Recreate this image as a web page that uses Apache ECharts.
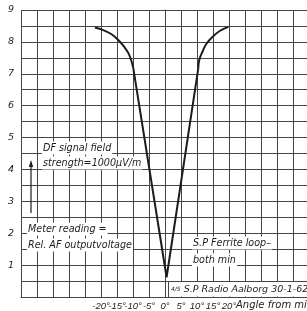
<!DOCTYPE html>
<html>
<head>
<meta charset="utf-8">
<script src="https://cdn.jsdelivr.net/npm/echarts@6/dist/echarts.min.js"></script>
<style>
html,body{margin:0;padding:0;background:#fff;}
#c{width:307px;height:311px;}
</style>
</head>
<body>
<div id="c"></div>
<script>
// Angle from min (degrees) and relative meter reading
const leftAngles = [-21.9, -19.3, -16.7, -14.6, -12.8, -11.4, -10.4, -9.9];
const leftReadings = [8.45, 8.37, 8.24, 8.06, 7.85, 7.64, 7.37, 7.17];
const vAngles = [-9.9, 0.5, 10.4];
const vReadings = [7.17, 0.62, 7.17];
const rightAngles = [10.4, 10.7, 11.7, 13.0, 15.1, 17.2, 19.8];
const rightReadings = [7.17, 7.43, 7.69, 7.95, 8.18, 8.35, 8.47];
const xTickLabels = [-20, -15, -10, -5, 0, 5, 10, 15, 20];
const yTickLabels = [1, 2, 3, 4, 5, 6, 7, 8, 9];

const ink = '#1c1c1c';
const gridInk = '#454545';
const fam = '"DejaVu Sans", sans-serif';

const chart = echarts.init(document.getElementById('c'), null, {renderer: 'canvas'});

function pairs(xs, ys) { return xs.map(function (a, i) { return [a, ys[i]]; }); }

function note(x, y, text) {
  return {
    type: 'text', x: x, y: y, z: 20,
    style: {
      text: text, fill: ink, fontSize: 9.6, fontStyle: 'italic', fontFamily: fam,
      verticalAlign: 'middle', backgroundColor: '#fff', padding: [2, 1, 1, 1]
    }
  };
}

function curve(data, smooth) {
  return {
    type: 'line', z: 30, data: data, showSymbol: false, symbol: 'none',
    smooth: smooth, lineStyle: {color: ink, width: 2}
  };
}

chart.setOption({
  animation: false,
  backgroundColor: '#fff',
  grid: {left: 21, right: 0, top: 10, bottom: 14, containLabel: false},
  xAxis: {
    type: 'value', min: -45, max: 44.375, interval: 5,
    axisLine: {show: true, lineStyle: {color: gridInk, width: 1}},
    axisTick: {show: false},
    splitLine: {show: true, lineStyle: {color: gridInk, width: 1}},
    axisLabel: {
      show: true, margin: 4, color: ink, fontSize: 9.5, fontStyle: 'italic',
      fontFamily: '"Liberation Sans", sans-serif',
      showMinLabel: false, showMaxLabel: false,
      formatter: function (v) { return xTickLabels.indexOf(v) >= 0 ? v + '°' : ''; }
    }
  },
  yAxis: {
    type: 'value', min: 0, max: 9, interval: 0.5,
    axisLine: {show: true, lineStyle: {color: gridInk, width: 1}},
    axisTick: {show: false},
    splitLine: {show: true, lineStyle: {color: gridInk, width: 1}},
    axisLabel: {
      show: true, margin: 7, color: ink, fontSize: 9.5, fontStyle: 'italic',
      fontFamily: fam,
      formatter: function (v) { return yTickLabels.indexOf(v) >= 0 ? String(v) : ''; }
    }
  },
  series: [
    curve(pairs(leftAngles, leftReadings), 0.4),
    curve(pairs(vAngles, vReadings), false),
    curve(pairs(rightAngles, rightReadings), 0.4)
  ],
  graphic: [
    note(42, 148, 'DF signal field'),
    note(42, 163, 'strength=1000µV/m'),
    note(27, 229, 'Meter reading ='),
    note(27, 245, 'Rel. AF outputvoltage'),
    note(192, 243, 'S.P Ferrite loop–'),
    note(192, 260, 'both min'),
    {type: 'line', z: 20, shape: {x1: 31, y1: 213, x2: 31, y2: 166}, style: {stroke: ink, lineWidth: 1.2}},
    {type: 'polygon', z: 20, shape: {points: [[31, 160], [28.8, 167], [33.2, 167]]}, style: {fill: ink}},
    {type: 'rect', z: 19, shape: {x: 168, y: 282, width: 139, height: 14.5}, style: {fill: '#fff'}},
    {type: 'line', z: 20, shape: {x1: 168.5, y1: 281, x2: 168.5, y2: 297}, style: {stroke: gridInk, lineWidth: 1}},
    {
      type: 'text', x: 171, y: 289.5, z: 21,
      style: {
        text: '{f|4/5} S.P Radio Aalborg 30-1-62', fill: ink, fontSize: 9.5, fontStyle: 'italic',
        fontFamily: fam, verticalAlign: 'middle',
        rich: {f: {fontSize: 6, fontStyle: 'italic', fontFamily: fam, fill: ink}}
      }
    },
    {
      type: 'text', x: 236, y: 305, z: 21,
      style: {
        text: 'Angle from min', fill: ink, fontSize: 10, fontStyle: 'italic',
        fontFamily: fam, verticalAlign: 'middle'
      }
    }
  ]
});
</script>
</body>
</html>
